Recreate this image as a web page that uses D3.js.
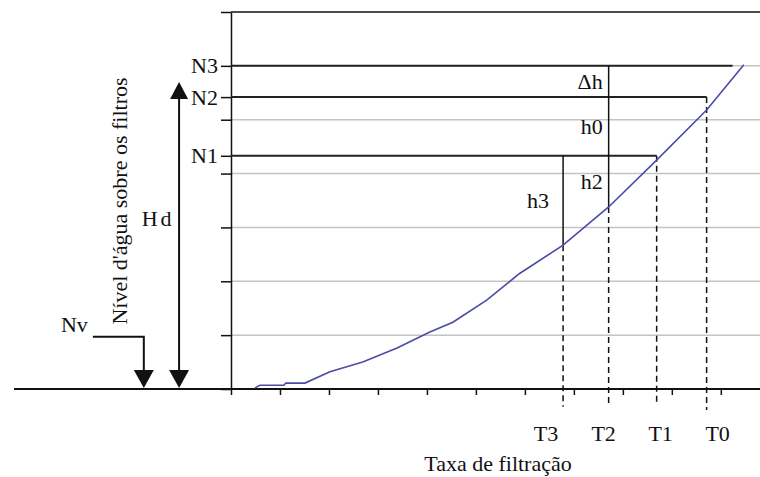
<!DOCTYPE html>
<html>
<head>
<meta charset="utf-8">
<script src="https://cdn.jsdelivr.net/npm/d3@7"></script>
<style>
  body { margin: 0; background: #fff; }
</style>
</head>
<body>
<div id="chart"></div>
<script>
// curve: water level vs filtration rate
const curveRate  = [0.49, 0.59, 1.08, 1.12, 1.51, 2.02, 2.69, 3.39, 4.06, 4.53, 5.22, 5.90, 6.78, 7.71, 8.69, 9.71, 10.47];
const curveLevel = [0.02, 0.07, 0.07, 0.11, 0.11, 0.32, 0.50, 0.76, 1.06, 1.24, 1.65, 2.15, 2.67, 3.38, 4.25, 5.18, 6.02];

// levels N1..N3 and where their horizontal line stops
const levelNames   = ["N1", "N2", "N3"];
const levelValues  = [4.33, 5.42, 6.0];
const levelLineEnd = [8.69, 9.71, 10.24];

// rates T3..T0
const rateNames      = ["T3", "T2", "T1", "T0"];
const rateValues     = [6.78, 7.71, 8.69, 9.71];
const rateTop        = [4.33, 6.0, 4.33, 5.42];
const rateCurve      = [2.67, 3.38, null, null];
const rateDashBottom = [-0.33, -0.33, -0.25, -0.39];

// head-loss labels
const hNames  = ["\u0394h", "h0", "h2", "h3"];
const hRate   = [7.71, 7.71, 7.71, 6.78];
const hTop    = [6.0, 5.42, 4.33, 4.33];
const hBottom = [5.42, 4.33, 3.38, 2.67];

const gridLevels = [1, 2, 3, 4, 5, 6];
const xTicks = [0, 1, 2, 3, 4, 5, 6, 7, 8, 9, 10];
const yTicks = [0, 1, 2, 3, 4, 5, 6, 7];

// Hd / Nv annotations (left of axis)
const hdRate = -1.06, hdTop = 5.70;
const nvRate = -1.78, nvStart = -2.82, nvLevel = 0.97;
const groundStart = -4.43;

var width = 760, height = 477;
var fs = 22;
var serif = "'Liberation Serif', 'DejaVu Serif', serif";

var x = d3.scaleLinear().domain([0, 10.8]).range([231, 760]);
var y = d3.scaleLinear().domain([0, 7]).range([389, 12]);

var svg = d3.select("#chart").append("svg")
  .attr("width", width)
  .attr("height", height);

svg.append("rect").attr("width", width).attr("height", height).attr("fill", "#fff");

function label(sel) {
  return sel.attr("font-family", serif)
    .attr("font-size", fs)
    .attr("fill", "#111");
}

// gridlines
svg.selectAll(".grid")
  .data(gridLevels)
  .enter().append("line")
  .attr("class", "grid")
  .attr("x1", x(0)).attr("x2", x(10.8))
  .attr("y1", function(d) { return y(d); })
  .attr("y2", function(d) { return y(d); })
  .attr("stroke", "#c4c4c4")
  .attr("stroke-width", 1.5);

// top border
svg.append("line")
  .attr("x1", x(0)).attr("x2", x(10.8))
  .attr("y1", y(7)).attr("y2", y(7))
  .attr("stroke", "#111").attr("stroke-width", 1.5);

// y axis with N labels
var levelTicks = yTicks.concat(levelValues.filter(function(v) { return yTicks.indexOf(v) < 0; }));
var yAxis = d3.axisLeft(y)
  .tickValues(levelTicks)
  .tickSize(10)
  .tickSizeOuter(0)
  .tickPadding(3)
  .tickFormat(function(d) {
    var i = levelValues.indexOf(d);
    return i >= 0 ? levelNames[i] : "";
  });

var gy = svg.append("g")
  .attr("transform", "translate(" + x(0) + ",0)")
  .call(yAxis)
  .attr("font-family", serif)
  .attr("font-size", fs);
gy.select(".domain").attr("stroke", "#111").attr("stroke-width", 1.5);
gy.selectAll(".tick line").attr("stroke", "#111").attr("stroke-width", 1.5);
gy.selectAll(".tick text").attr("fill", "#111");

// x axis ticks
var xAxis = d3.axisBottom(x)
  .tickValues(xTicks)
  .tickSize(6)
  .tickSizeOuter(0)
  .tickFormat("");
var gx = svg.append("g")
  .attr("transform", "translate(0," + y(0) + ")")
  .call(xAxis);
gx.select(".domain").remove();
gx.selectAll(".tick line").attr("stroke", "#111").attr("stroke-width", 1.5);

// ground line
svg.append("line")
  .attr("x1", x(groundStart)).attr("x2", x(10.8))
  .attr("y1", y(0)).attr("y2", y(0))
  .attr("stroke", "#111").attr("stroke-width", 2);

// level lines
svg.selectAll(".level")
  .data(levelValues)
  .enter().append("line")
  .attr("class", "level")
  .attr("x1", x(0))
  .attr("x2", function(d, i) { return x(levelLineEnd[i]); })
  .attr("y1", function(d) { return y(d); })
  .attr("y2", function(d) { return y(d); })
  .attr("stroke", "#222")
  .attr("stroke-width", 2);

// rate verticals: solid part (level -> curve), then dashed down past the axis
rateValues.forEach(function(r, i) {
  var dashTop = rateTop[i];
  if (rateCurve[i] !== null) {
    svg.append("line")
      .attr("x1", x(r)).attr("x2", x(r))
      .attr("y1", y(rateTop[i])).attr("y2", y(rateCurve[i]))
      .attr("stroke", "#111").attr("stroke-width", 1.5);
    dashTop = rateCurve[i];
  }
  svg.append("line")
    .attr("x1", x(r)).attr("x2", x(r))
    .attr("y1", y(dashTop)).attr("y2", y(rateDashBottom[i]))
    .attr("stroke", "#111").attr("stroke-width", 1.5)
    .attr("stroke-dasharray", "6,4");
});

// curve
var pts = curveRate.map(function(r, i) { return [r, curveLevel[i]]; });
svg.append("path")
  .datum(pts)
  .attr("fill", "none")
  .attr("stroke", "#4b4ba6")
  .attr("stroke-width", 1.6)
  .attr("d", d3.line()
    .x(function(d) { return x(d[0]); })
    .y(function(d) { return y(d[1]); }));

// T labels
var tShift = [-17, -5, 4, 11];
svg.selectAll(".tlab")
  .data(rateNames)
  .enter().append("text")
  .attr("class", "tlab")
  .attr("x", function(d, i) { return x(rateValues[i]) + tShift[i]; })
  .attr("y", 441)
  .attr("text-anchor", "middle")
  .call(label)
  .text(function(d) { return d; });

// x title
svg.append("text")
  .attr("x", 498)
  .attr("y", 471)
  .attr("text-anchor", "middle")
  .call(label)
  .text("Taxa de filtração");

// y title
svg.append("text")
  .attr("transform", "translate(127," + 201 + ") rotate(-90)")
  .attr("text-anchor", "middle")
  .call(label)
  .text("Nível d'água sobre os filtros");

// h labels
svg.selectAll(".hlab")
  .data(hNames)
  .enter().append("text")
  .attr("class", "hlab")
  .attr("x", function(d, i) { return x(hRate[i]) - (i === 3 ? 14 : 6); })
  .attr("y", function(d, i) { return y((hTop[i] + hBottom[i]) / 2); })
  .attr("dy", "0.35em")
  .attr("text-anchor", "end")
  .call(label)
  .text(function(d) { return d; });

// Hd arrow
svg.append("line")
  .attr("x1", x(hdRate)).attr("x2", x(hdRate))
  .attr("y1", y(hdTop) + 10).attr("y2", y(0) - 10)
  .attr("stroke", "#111").attr("stroke-width", 2);

function triangle(cx, tipY, dir, w, h) {
  // dir = 1 points down, -1 points up
  var baseY = tipY - dir * h;
  return "M" + cx + "," + tipY + "L" + (cx - w / 2) + "," + baseY + "L" + (cx + w / 2) + "," + baseY + "Z";
}
svg.append("path").attr("d", triangle(x(hdRate), y(hdTop), -1, 18, 17)).attr("fill", "#111");
svg.append("path").attr("d", triangle(x(hdRate), y(0) - 1, 1, 20, 18)).attr("fill", "#111");

svg.append("text")
  .attr("x", x(hdRate) - 21)
  .attr("y", 226)
  .attr("text-anchor", "middle")
  .attr("letter-spacing", 3)
  .call(label)
  .text("Hd");

// Nv indicator
svg.append("path")
  .attr("d", "M" + x(nvStart) + "," + y(nvLevel) + "H" + x(nvRate) + "V" + (y(0) - 10))
  .attr("fill", "none")
  .attr("stroke", "#111").attr("stroke-width", 2);
svg.append("path").attr("d", triangle(x(nvRate), y(0) - 1, 1, 20, 18)).attr("fill", "#111");

svg.append("text")
  .attr("x", x(nvStart) - 5)
  .attr("y", 332)
  .attr("text-anchor", "end")
  .call(label)
  .text("Nv");
</script>
</body>
</html>
